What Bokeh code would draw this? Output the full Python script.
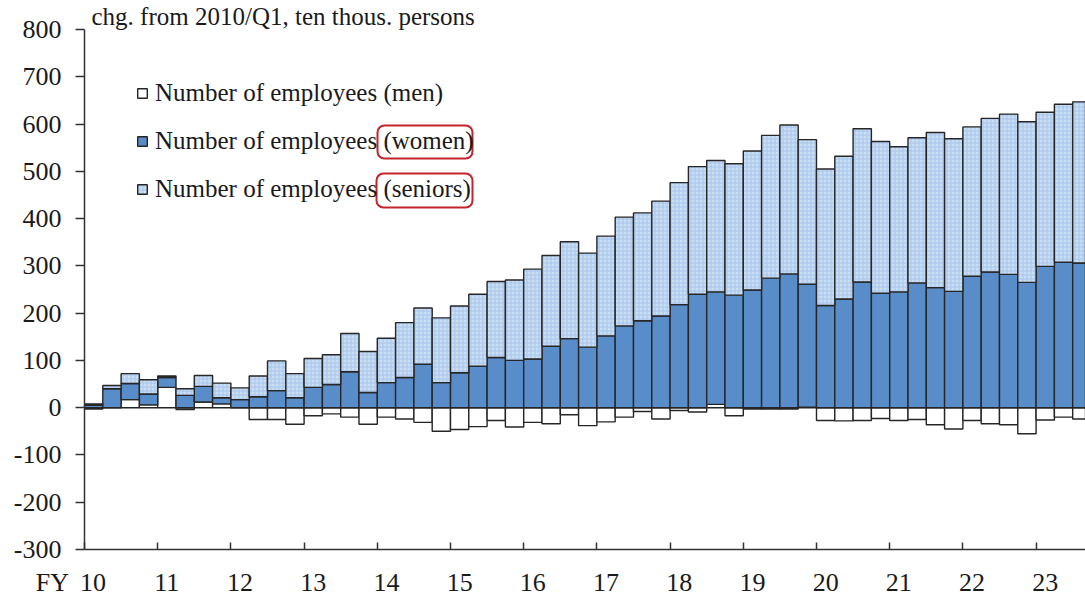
from bokeh.plotting import figure
from bokeh.models import (ColumnDataSource, FixedTicker, Legend, LegendItem,
                          BoxAnnotation, Range1d, CustomJSTickFormatter)
from bokeh.embed import file_html
from bokeh.resources import INLINE

# ---- data (change from 2010/Q1, ten thousand persons), quarterly FY10Q1 .. FY23Q3 ----
fiscal_years = ["10", "11", "12", "13", "14", "15", "16", "17", "18", "19", "20", "21", "22", "23"]

men = [-3, 0, 17, 6, 43, -4, 12, 8, 0, -25,
       -25, -35, -17, -13, -20, -35, -20, -24, -31, -50,
       -46, -40, -27, -41, -31, -34, -15, -38, -30, -20,
       -8, -24, -6, -9, 7, -17, -3, -3, -3, 1,
       -27, -28, -27, -23, -27, -25, -36, -45, -27, -34,
       -36, -55, -26, -20, -24]

women = [5, 40, 34, 23, 21, 26, 33, 13, 17, 23,
         36, 21, 43, 49, 76, 32, 53, 64, 92, 53,
         74, 88, 106, 100, 103, 130, 146, 128, 152, 173,
         184, 194, 218, 240, 238, 238, 249, 274, 283, 260,
         216, 230, 266, 242, 245, 264, 254, 246, 278, 287,
         282, 265, 299, 308, 306]

seniors = [3, 7, 21, 30, 3, 14, 23, 31, 25, 44,
           63, 51, 61, 63, 81, 87, 94, 116, 119, 137,
           141, 152, 161, 170, 190, 192, 205, 199, 211, 230,
           228, 243, 258, 270, 278, 278, 294, 302, 315, 306,
           289, 302, 324, 321, 307, 307, 328, 323, 316, 325,
           339, 340, 326, 334, 341]

labels = ["Number of employees (men)", "Number of employees (women)", "Number of employees (seniors)"]
title_text = "chg. from 2010/Q1, ten thous. persons"

# ---- stacking ----
n = len(men)
xs = [i + 0.5 for i in range(n)]
men_bot = [min(m, 0) for m in men]
men_top = [max(m, 0) for m in men]
w_bot = men_top
w_top = [b + w for b, w in zip(w_bot, women)]
s_bot = w_top
s_top = [b + s for b, s in zip(s_bot, seniors)]
src = ColumnDataSource(dict(x=xs, mb=men_bot, mt=men_top, wb=w_bot, wt=w_top, sb=s_bot, st=s_top))

FONT = "Liberation Serif"
TXT = "#1a1a1a"
EDGE = "#262626"

p = figure(width=1085, height=599, x_range=Range1d(0, 54.7), y_range=Range1d(-300, 800),
           output_backend="svg", toolbar_location=None, title=title_text,
           min_border_left=84, min_border_right=0, min_border_top=29, min_border_bottom=50)
p.outline_line_color = None
p.grid.visible = False
p.background_fill_color = "white"

# unit title (above the frame, left aligned)
p.title.text_font = FONT
p.title.text_font_size = "25px"
p.title.text_font_style = "normal"
p.title.text_color = TXT
p.title.align = "left"
p.title.offset = 7
p.title.standoff = 0

r_men = p.vbar(x="x", bottom="mb", top="mt", width=1, source=src,
               fill_color="white", line_color=EDGE, line_width=1.4)
r_women = p.vbar(x="x", bottom="wb", top="wt", width=1, source=src,
                 fill_color="#598dca", line_color=EDGE, line_width=1.4)
r_sen = p.vbar(x="x", bottom="sb", top="st", width=1, source=src,
               fill_color="#c9ddf3", hatch_pattern="+", hatch_color="#a8c6ea",
               hatch_scale=4, hatch_weight=1, line_color=EDGE, line_width=1.4)

# y axis
ya = p.yaxis[0]
ya.ticker = FixedTicker(ticks=list(range(-300, 801, 100)))
ya.formatter = CustomJSTickFormatter(code="return tick.toFixed(0)")
ya.major_label_text_font = FONT
ya.major_label_text_font_size = "26px"
ya.major_label_text_color = TXT
ya.major_tick_out = 9
ya.major_tick_in = 0
ya.minor_tick_line_color = None
ya.major_label_standoff = 14
ya.axis_line_color = "#333333"
ya.axis_line_width = 1.5
ya.major_tick_line_color = "#333333"
ya.major_tick_line_width = 1.5

# x axis: labels under each year's first quarter, small ticks at year boundaries
x_labels = ["FY\u2005\u2006" + fiscal_years[0] + "\u2003\u2002\u2005"] + fiscal_years[1:]
xa = p.xaxis[0]
xa.ticker = FixedTicker(ticks=[4 * k + 0.5 for k in range(len(fiscal_years))],
                        minor_ticks=[4 * k for k in range(len(fiscal_years))])
xa.formatter = CustomJSTickFormatter(args=dict(labs=x_labels),
                                     code="return labs[Math.round((tick - 0.5) / 4)]")
xa.major_label_text_font = FONT
xa.major_label_text_font_size = "26px"
xa.major_label_text_color = TXT
xa.major_label_standoff = 18
xa.major_tick_line_color = None
xa.major_tick_in = 0
xa.major_tick_out = 0
xa.minor_tick_in = 7
xa.minor_tick_out = 0
xa.minor_tick_line_color = "#333333"
xa.minor_tick_line_width = 1.5
xa.axis_line_color = "#333333"
xa.axis_line_width = 1.5

legend = Legend(items=[LegendItem(label=labels[0], renderers=[r_men]),
                       LegendItem(label=labels[1], renderers=[r_women]),
                       LegendItem(label=labels[2], renderers=[r_sen])],
                location=(52, 346), glyph_width=12, glyph_height=12,
                label_text_font=FONT, label_text_font_size="25px", label_text_color=TXT,
                label_standoff=7, spacing=20, padding=0, margin=0,
                border_line_color=None, background_fill_alpha=0)
p.add_layout(legend)

# red rounded highlight boxes around "(women)" and "(seniors)"
for l, r, t, b in [(293, 388, 424, 391), (292, 388, 376, 342)]:
    p.add_layout(BoxAnnotation(left=l, right=r, top=t, bottom=b,
                               left_units="screen", right_units="screen",
                               top_units="screen", bottom_units="screen",
                               fill_alpha=0, line_color="#c3242b", line_alpha=1,
                               line_width=2, border_radius=7))

open("out.html", "w").write(file_html(p, INLINE))
